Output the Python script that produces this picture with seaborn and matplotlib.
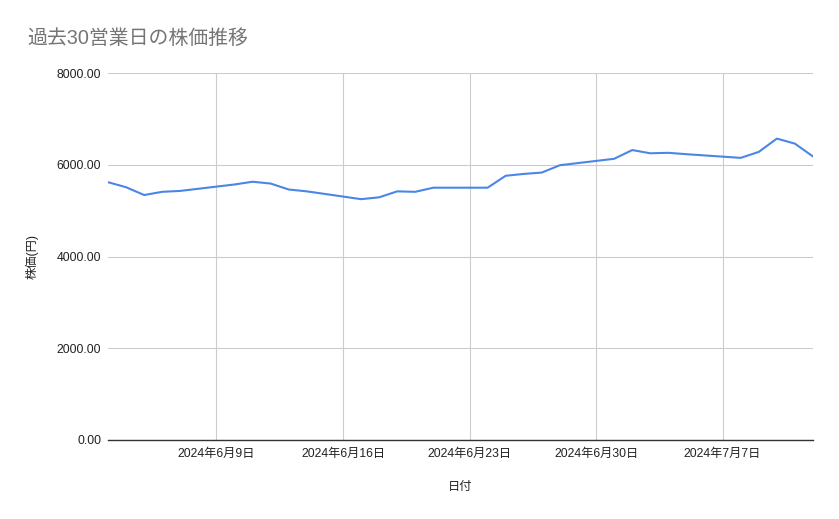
import pandas as pd
import seaborn as sns
import matplotlib.pyplot as plt

# 30 business days, June 3 - July 12, 2024
dates = pd.bdate_range("2024-06-03", "2024-07-12")
prices = [
    5620, 5510, 5340, 5410, 5430,
    5570, 5630, 5590, 5460, 5420,
    5250, 5290, 5420, 5410, 5500,
    5500, 5760, 5800, 5830, 5990,
    6130, 6320, 6250, 6260, 6230,
    6150, 6280, 6570, 6460, 6180,
]
tick_dates = pd.to_datetime(["2024-06-09", "2024-06-16", "2024-06-23", "2024-06-30", "2024-07-07"])
tick_labels = [f"{d.year}年{d.month}月{d.day}日" for d in tick_dates]
y_ticks = [0, 2000, 4000, 6000, 8000]

df = pd.DataFrame({"日付": dates, "株価": prices})

sns.set_style("white")
plt.rcParams["font.family"] = ["Liberation Sans", "Noto Sans CJK JP", "DejaVu Sans"]

fig = plt.figure(figsize=(8.39, 5.19), dpi=100)
ax = fig.add_axes([108 / 839, 79 / 519, 705 / 839, 367 / 519])

sns.lineplot(data=df, x="日付", y="株価", ax=ax, color="#4a86e8", linewidth=1.5)

ax.set_xlim(dates[0], dates[-1])
ax.set_ylim(0, 8000)
ax.set_xticks(tick_dates)
ax.set_xticklabels(tick_labels, fontsize=8.8, color="#222222")
ax.set_yticks(y_ticks)
ax.set_yticklabels([f"{v:.2f}" for v in y_ticks], fontsize=8.8, color="#222222")
ax.tick_params(axis="both", length=0)
ax.tick_params(axis="y", pad=5)
ax.tick_params(axis="x", pad=6)

ax.grid(True, color="#cccccc", linewidth=0.8)
ax.set_axisbelow(True)
for side in ["top", "left", "right"]:
    ax.spines[side].set_visible(False)
ax.spines["bottom"].set_color("#333333")
ax.spines["bottom"].set_linewidth(1.0)

ax.set_xlabel("日付", fontsize=8.8, color="#222222")
ax.set_ylabel("株価(円)", fontsize=8.8, color="#222222")
ax.xaxis.set_label_coords(0.5, -41 / 367)
ax.yaxis.set_label_coords(-(108 - 39) / 705, 0.5)

fig.text(27 / 839, 1 - 38 / 519, "過去30営業日の株価推移", fontsize=14.3,
         color="#757575", va="center", ha="left")

fig.savefig("out.png", dpi=100)
